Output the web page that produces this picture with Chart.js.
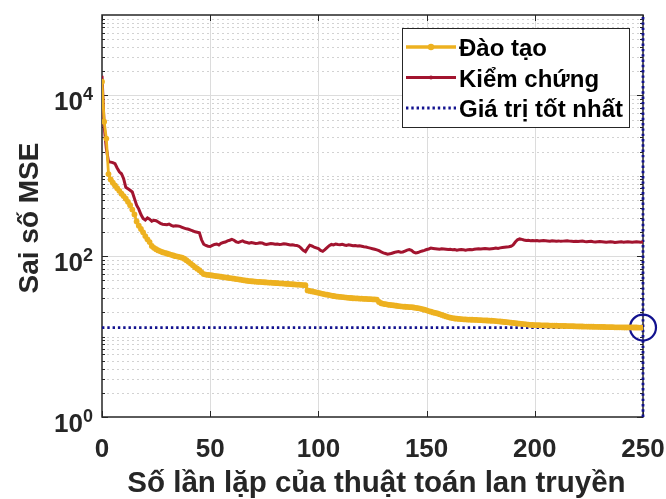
<!DOCTYPE html>
<html>
<head>
<meta charset="utf-8">
<script src="https://cdn.jsdelivr.net/npm/chart.js@4/dist/chart.umd.min.js"></script>
<style>
  html, body { margin: 0; padding: 0; background: #ffffff; }
  #wrap { width: 666px; height: 499px; }
</style>
</head>
<body>
<div id="wrap"><canvas id="perf" width="666" height="499"></canvas></div>
<script>
// Mean squared error per training epoch (epochs 0..250)
const trainMSE = [
  14800, 4700, 2900, 1050, 900, 820, 760, 700, 650, 600,
  560, 520, 475, 430, 380, 330, 270, 240, 218, 198,
  178, 162, 150, 134, 127, 122, 118, 115, 112, 110,
  108, 106, 104, 102, 100, 99, 97.5, 96, 93, 89,
  85, 81, 77, 73, 70, 67, 63, 60, 59, 58.5,
  58, 57.5, 57, 56.5, 56, 55.5, 55, 54.5, 54, 53.5,
  53, 52.5, 52, 51.5, 51, 50.5, 50, 49.5, 49, 48.8,
  48.5, 48.2, 48, 47.8, 47.6, 47.4, 47.2, 47, 46.8, 46.6,
  46.4, 46.2, 46, 45.8, 45.6, 45.4, 45.2, 45, 44.8, 44.6,
  44.4, 44.2, 44, 43.8, 43.5, 37.5, 37, 36.5, 36, 35.5,
  35, 34.5, 34, 33.6, 33.2, 32.8, 32.4, 32, 31.7, 31.4,
  31.2, 31, 30.8, 30.6, 30.4, 30.2, 30, 29.9, 29.8, 29.7,
  29.6, 29.5, 29.4, 29.3, 29.2, 29.1, 29, 28.9, 27, 26,
  25.6, 25.3, 25, 24.8, 24.6, 24.4, 24.2, 24, 23.8, 23.6,
  23.5, 23.4, 23.3, 23.2, 23, 22.8, 22.6, 22.3, 22, 21.6,
  21.2, 20.8, 20.4, 20, 19.7, 19.4, 19, 18.6, 18.2, 17.8,
  17.5, 17.2, 17, 16.8, 16.7, 16.6, 16.5, 16.4, 16.35, 16.3,
  16.25, 16.2, 16.15, 16.1, 16.05, 16, 15.95, 15.9, 15.85, 15.8,
  15.75, 15.7, 15.6, 15.5, 15.4, 15.3, 15.2, 15.1, 15, 14.9,
  14.8, 14.7, 14.6, 14.5, 14.4, 14.3, 14.2, 14.1, 14, 13.95,
  13.9, 13.88, 13.85, 13.83, 13.8, 13.78, 13.75, 13.72, 13.7, 13.68,
  13.65, 13.62, 13.6, 13.58, 13.55, 13.52, 13.5, 13.48, 13.45, 13.43,
  13.4, 13.38, 13.36, 13.34, 13.32, 13.3, 13.28, 13.26, 13.24, 13.22,
  13.2, 13.18, 13.16, 13.14, 13.12, 13.1, 13.08, 13.06, 13.05, 13.04,
  13.03, 13.02, 13.01, 13, 13, 12.99, 12.98, 12.97, 12.96, 12.95,
  12.95
];

const validMSE = [
  17500, 4200, 2200, 1500, 1480, 1460, 1420, 1250, 1120, 1060,
  920, 720, 690, 660, 630, 520, 430, 385, 330, 295,
  282, 300, 288, 272, 280, 276, 266, 256, 250, 248,
  246, 251, 242, 236, 239, 237, 235, 229, 223, 219,
  216, 211, 206, 201, 199, 196, 160, 141, 136, 133,
  132, 136, 140, 142, 138, 145, 148, 150, 155, 158,
  162, 158, 151, 148, 152, 155, 150, 148, 145, 148,
  146, 144, 145, 147, 146, 142, 140, 142, 144, 143,
  141, 142, 140, 141, 143, 142, 140, 138, 139, 137,
  136, 133, 126, 118, 114, 126, 137, 134, 130, 127,
  124, 118, 115, 121, 128, 135, 140, 138, 142, 140,
  139, 141, 138, 136, 139, 137, 135, 136, 134, 135,
  133, 131, 130, 128, 126, 124, 122, 120, 117, 113,
  110, 108, 106, 107, 109, 111, 113, 114, 112, 113,
  116, 119, 121, 118, 112, 110, 111, 114, 116, 118,
  121, 123, 126, 125, 124, 123, 122, 124, 123, 122,
  121, 122, 120, 121, 119, 120, 121, 120, 119, 120,
  121, 120, 122, 123, 124, 123, 124, 125, 124, 123,
  124, 125, 126, 125, 127, 128, 129, 130, 131, 133,
  138, 150, 160, 164, 162, 159, 157, 158, 156, 157,
  156, 157, 155, 156, 157, 156, 155, 154, 156, 155,
  154, 155, 153, 154, 155, 156, 154, 153, 152, 153,
  152, 153, 154, 152, 151, 152, 153, 151, 150, 151,
  152, 151, 150, 149, 150, 151, 150, 148, 149, 150,
  151, 149, 150, 151, 150, 149, 150, 151, 150, 149,
  150
];

const bestEpoch = 250;
const bestMSE = 12.95;

const xTickValues = [0, 50, 100, 150, 200, 250];
const yTickExponents = [0, 2, 4];
const seriesNames = ['Đào tạo', 'Kiểm chứng', 'Giá trị tốt nhất'];
const xTitle = 'Số lần lặp của thuật toán lan truyền';
const yTitle = 'Sai số MSE';

const FONT = '"Liberation Sans", Arial, Helvetica, sans-serif';
const INK = '#262626';
const YELLOW = '#EDB120';
const RED = '#A2142F';
const BLUE = '#12128f';

const toPoints = arr => arr.map((v, i) => ({ x: i, y: v }));

// Grid, axes box, tick marks, tick labels, titles and legend
const decorPlugin = {
  id: 'decor',
  beforeDatasetsDraw(chart) {
    const { ctx, chartArea: a, scales: { x, y } } = chart;
    const hline = (py, x0, x1) => { ctx.beginPath(); ctx.moveTo(x0, py); ctx.lineTo(x1, py); ctx.stroke(); };
    const vline = (px, y0, y1) => { ctx.beginPath(); ctx.moveTo(px, y0); ctx.lineTo(px, y1); ctx.stroke(); };
    const majors = yTickExponents.map(e => Math.pow(10, e));
    ctx.save();
    // minor (dotted) horizontal grid
    ctx.strokeStyle = '#d2d2d2';
    ctx.lineWidth = 1;
    ctx.setLineDash([2, 3]);
    for (let e = 0; e < 5; e++) {
      for (let m = 1; m <= 9; m++) {
        const v = m * Math.pow(10, e);
        if (majors.includes(v) || v <= 1) continue;
        hline(Math.round(y.getPixelForValue(v)) + 0.5, a.left, a.right);
      }
    }
    // major grid
    ctx.setLineDash([]);
    ctx.strokeStyle = '#dcdcdc';
    majors.forEach(v => { if (v > 1) hline(Math.round(y.getPixelForValue(v)) + 0.5, a.left, a.right); });
    xTickValues.forEach(v => { if (v > 0 && v < 250) vline(Math.round(x.getPixelForValue(v)) + 0.5, a.top, a.bottom); });

    // axes box
    ctx.strokeStyle = INK;
    ctx.lineWidth = 1.5;
    ctx.strokeRect(a.left, a.top, a.right - a.left, a.bottom - a.top);

    // tick marks pointing inward
    ctx.lineWidth = 1;
    xTickValues.forEach(v => {
      const px = Math.round(x.getPixelForValue(v)) + 0.5;
      vline(px, a.bottom, a.bottom - 6);
      vline(px, a.top, a.top + 6);
    });
    for (let e = 0; e < 5; e++) {
      for (let m = 1; m <= 9; m++) {
        const v = m * Math.pow(10, e);
        const py = Math.round(y.getPixelForValue(v)) + 0.5;
        const len = majors.includes(v) ? 6 : 3;
        hline(py, a.left, a.left + len);
        hline(py, a.right, a.right - len);
      }
    }
    ctx.restore();
  },
  afterDraw(chart) {
    const { ctx, chartArea: a, scales: { x, y } } = chart;
    ctx.save();
    ctx.fillStyle = INK;

    // x tick labels
    ctx.font = 'bold 26px ' + FONT;
    ctx.textAlign = 'center';
    ctx.textBaseline = 'alphabetic';
    xTickValues.forEach(v => ctx.fillText(String(v), x.getPixelForValue(v), 457));

    // y tick labels: 10 with a raised exponent
    yTickExponents.forEach(e => {
      const py = y.getPixelForValue(Math.pow(10, e));
      ctx.font = 'bold 18px ' + FONT;
      ctx.textAlign = 'right';
      ctx.textBaseline = 'alphabetic';
      const exp = String(e);
      const ew = ctx.measureText(exp).width;
      ctx.fillText(exp, 93, py + 5);
      ctx.font = 'bold 26px ' + FONT;
      ctx.fillText('10', 93 - ew, py + 15);
    });

    // axis titles
    ctx.font = 'bold 29.5px ' + FONT;
    ctx.textAlign = 'center';
    ctx.textBaseline = 'alphabetic';
    ctx.fillText(xTitle, (a.left + a.right) / 2 + 4, 492);

    ctx.save();
    ctx.translate(38, (a.top + a.bottom) / 2 + 2);
    ctx.rotate(-Math.PI / 2);
    ctx.font = 'bold 28px ' + FONT;
    ctx.fillText(yTitle, 0, 0);
    ctx.restore();

    // legend
    const lx = 402, ly = 28, lw = 227, lh = 99;
    ctx.fillStyle = '#ffffff';
    ctx.fillRect(lx, ly, lw, lh);
    ctx.strokeStyle = INK;
    ctx.lineWidth = 1;
    ctx.strokeRect(lx + 0.5, ly + 0.5, lw, lh);

    const rows = [
      { y: 47, color: YELLOW, width: 3.5, dash: [], dot: 3.2 },
      { y: 77.5, color: RED, width: 3.2, dash: [], dot: 2 },
      { y: 108, color: BLUE, width: 2.8, dash: [2.4, 2.9], dot: 0 }
    ];
    rows.forEach((r, i) => {
      ctx.strokeStyle = r.color;
      ctx.lineWidth = r.width;
      ctx.setLineDash(r.dash);
      ctx.beginPath();
      ctx.moveTo(406, r.y);
      ctx.lineTo(456, r.y);
      ctx.stroke();
      ctx.setLineDash([]);
      if (r.dot) {
        ctx.fillStyle = r.color;
        ctx.beginPath();
        ctx.arc(431, r.y, r.dot, 0, Math.PI * 2);
        ctx.fill();
      }
      ctx.fillStyle = '#000000';
      ctx.font = 'bold 24px ' + FONT;
      ctx.textAlign = 'left';
      ctx.textBaseline = 'alphabetic';
      ctx.fillText(seriesNames[i], 459, r.y + 9);
    });
    ctx.restore();
  }
};

new Chart(document.getElementById('perf'), {
  type: 'line',
  data: {
    datasets: [
      {
        label: seriesNames[0],
        data: toPoints(trainMSE),
        borderColor: YELLOW,
        backgroundColor: YELLOW,
        borderWidth: 2.8,
        pointRadius: 2.9,
        pointBorderWidth: 0,
        pointBackgroundColor: YELLOW,
        tension: 0
      },
      {
        label: seriesNames[1],
        data: toPoints(validMSE),
        borderColor: RED,
        backgroundColor: RED,
        borderWidth: 3,
        pointRadius: 0,
        tension: 0
      },
      {
        label: seriesNames[2],
        data: [{ x: 0, y: bestMSE }, { x: bestEpoch, y: bestMSE }],
        borderColor: BLUE,
        borderWidth: 2.8,
        borderDash: [2.4, 2.9],
        pointRadius: 0,
        clip: false
      },
      {
        label: 'best epoch',
        data: [{ x: bestEpoch, y: 1 }, { x: bestEpoch, y: 100000 }],
        borderColor: BLUE,
        borderWidth: 2.8,
        borderDash: [2.4, 2.9],
        pointRadius: 0,
        clip: false
      },
      {
        label: 'best point',
        data: [{ x: bestEpoch, y: bestMSE }],
        showLine: false,
        pointRadius: 13,
        pointBorderWidth: 2.2,
        pointBorderColor: BLUE,
        pointBackgroundColor: 'rgba(0,0,0,0)',
        clip: false
      }
    ]
  },
  options: {
    responsive: false,
    animation: false,
    devicePixelRatio: 1,
    layout: { padding: { top: 15, right: 23, left: 0, bottom: 0 }, autoPadding: false },
    plugins: { legend: { display: false }, tooltip: { enabled: false } },
    scales: {
      x: {
        type: 'linear',
        min: 0,
        max: 250,
        afterBuildTicks: s => { s.ticks = xTickValues.map(v => ({ value: v })); },
        afterFit: s => { s.height = 82; s.paddingLeft = 0; s.paddingRight = 0; },
        ticks: { display: false },
        grid: { display: false, drawTicks: false },
        border: { display: false }
      },
      y: {
        type: 'logarithmic',
        min: 1,
        max: 100000,
        afterFit: s => { s.width = 102; s.paddingTop = 0; s.paddingBottom = 0; },
        ticks: { display: false },
        grid: { display: false, drawTicks: false },
        border: { display: false }
      }
    }
  },
  plugins: [decorPlugin]
});
</script>
</body>
</html>
